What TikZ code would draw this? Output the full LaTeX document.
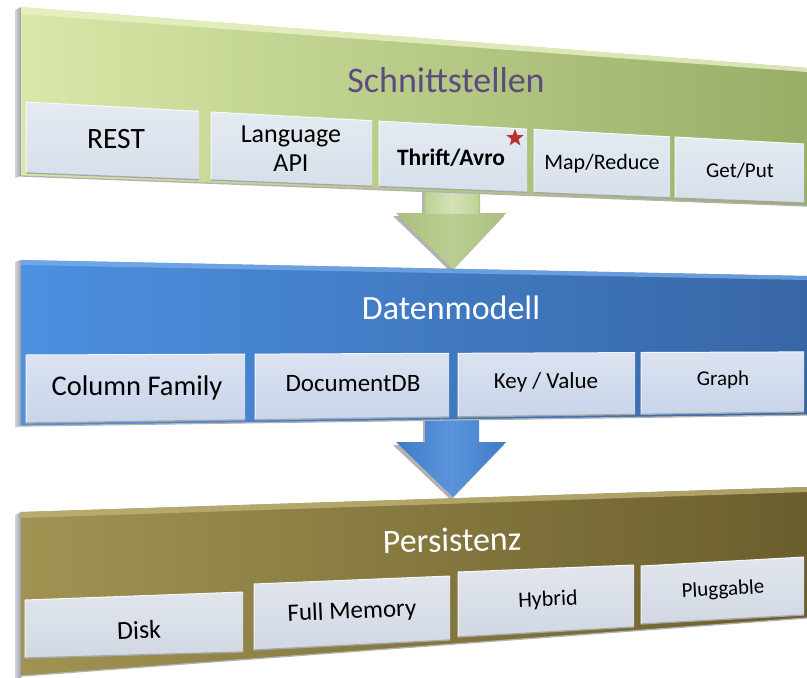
\documentclass[tikz,border=0pt]{standalone}
\usepackage{fontspec}
\setmainfont{Carlito}
\usetikzlibrary{shapes.geometric}

% layer colours
\definecolor{grnL}{HTML}{D8E8A8}
\definecolor{grnR}{HTML}{98AD66}
\definecolor{grnTop}{HTML}{E8F2C6}
\definecolor{bluL}{HTML}{4C90E0}
\definecolor{bluR}{HTML}{3766A6}
\definecolor{bluTop}{HTML}{7DB0EC}
\definecolor{oliL}{HTML}{A09352}
\definecolor{oliR}{HTML}{6A5E2D}
\definecolor{oliTop}{HTML}{BDB175}
\definecolor{sideA}{HTML}{D3D6DB}
\definecolor{sideB}{HTML}{9A9EA6}
\definecolor{cellG}{HTML}{D6DFEA}
\definecolor{cellB}{HTML}{C8D4E9}
\definecolor{cellO}{HTML}{D1D8E3}
\definecolor{titleInk}{HTML}{5C4A80}
\definecolor{starRed}{HTML}{B83232}
\definecolor{arrG}{HTML}{A9BF7E}
\definecolor{arrGl}{HTML}{C3D59B}
\definecolor{arrB}{HTML}{3F7BC6}
\definecolor{arrBl}{HTML}{5A95DC}

% one quadrilateral cell: x1, x2, top-left y, top-right y, bottom-right y, bottom-left y, colour
\newcommand\layercell[7]{%
  \shade[top color=#7!65!white, bottom color=#7] (#1,#3) -- (#2,#4) -- (#2,#5) -- (#1,#6) -- cycle;
  \draw[white!80!#7, line width=1pt] (#1,#6) -- (#1,#3) -- (#2,#4);
  \draw[black!35, line width=1.3pt] (#1,#6) -- (#2,#5);
}

\tikzset{
  cell/.style={inner sep=0pt, align=center, text=black},
  title/.style={inner sep=0pt, font=\fontsize{34}{38}\selectfont},
  arrowshadow/.style={fill=black, opacity=0.3},
}

\begin{document}
\begin{tikzpicture}[x=1pt, y=-1pt]
\useasboundingbox (0,0) rectangle (807,678);
\fill[white] (0,0) rectangle (807,678);

% ---------- block arrows (behind the layers) ----------
\fill[arrowshadow] (422,188) -- (478,188) -- (478,216) -- (504,216) -- (451,272) -- (393,216) -- (422,216) -- cycle;
\shade[left color=arrG, right color=arrG, middle color=arrGl!70!arrG]
  (424,185) -- (480,185) -- (480,213) -- (506,213) -- (453,269) -- (396,213) -- (424,213) -- cycle;
\shade[left color=arrGl!85!arrG, right color=arrGl!85!arrG, middle color=arrGl!70!white]
  (426,185) -- (478,185) -- (478,213) -- (426,213) -- cycle;

\fill[arrowshadow] (423,411) -- (477,411) -- (477,445) -- (504,445) -- (451,500) -- (393,445) -- (423,445) -- cycle;
\shade[left color=arrB, right color=arrB, middle color=arrBl]
  (425,408) -- (479,408) -- (479,442) -- (506,442) -- (453,497) -- (396,442) -- (425,442) -- cycle;

% ---------- layer 1: Schnittstellen ----------
\shade[left color=sideA, right color=sideB] (15,10) -- (21,7) -- (21,176) -- (15,178) -- cycle;
\shade[left color=grnL, right color=grnR] (21,7) -- (807,68) -- (807,206) -- (21,176) -- cycle;
\fill[grnTop, opacity=0.8] (21,7) -- (807,68) -- (807,72) -- (21,14) -- cycle;
\draw[black!30, line width=1.3pt] (21,176) -- (807,206);

\layercell{26}{199}{102}{111.3}{179.7}{173}{cellG}
\layercell{211}{372}{112}{120.7}{186.4}{180.1}{cellG}
\layercell{379}{527}{121.1}{129.1}{192.3}{186.6}{cellG}
\layercell{534}{670}{129.4}{136.8}{197.9}{192.6}{cellG}
\layercell{675}{804}{137}{144}{203}{198.1}{cellG}

\node[title, text=titleInk, font=\fontsize{36}{40}\selectfont] (schnitt) at (446,80) {Schnittstellen};
\node[cell, font=\fontsize{29.5}{32}\selectfont] (rest) at (116,139) {REST};
\node[cell, font=\fontsize{26}{29}\selectfont] (lang) at (291,149) {Language\\API};
\node[cell, font=\bfseries\fontsize{23.5}{26}\selectfont] (thrift) at (451,158) {Thrift/Avro};
\node[star, star points=5, star point ratio=2.4, fill=starRed, inner sep=0pt, minimum size=18pt] (star) at (515,138) {};
\node[cell, font=\fontsize{22}{25}\selectfont] (mapred) at (602,164) {Map/Reduce};
\node[cell, font=\fontsize{21}{24}\selectfont] (getput) at (740,171) {Get/Put};

% ---------- layer 2: Datenmodell ----------
\shade[left color=sideA, right color=sideB] (15,262) -- (21,260) -- (21,426) -- (15,428) -- cycle;
\shade[left color=bluL, right color=bluR] (21,260) -- (807,276) -- (807,415) -- (21,426) -- cycle;
\fill[bluTop, opacity=0.7] (21,260) -- (807,276) -- (807,280) -- (21,265) -- cycle;
\draw[black!30, line width=1.3pt] (21,426) -- (807,415);

\layercell{26}{245}{355}{354.1}{419.9}{423}{cellB}
\layercell{255}{449}{354.1}{353.3}{417}{419.8}{cellB}
\layercell{458}{635}{353.3}{352.6}{414.4}{416.9}{cellB}
\layercell{641}{804}{352.5}{351.9}{412}{414.3}{cellB}

\node[title, text=white] (daten) at (451,308) {Datenmodell};
\node[cell, font=\fontsize{28.5}{31}\selectfont] (colfam) at (137,388) {Column Family};
\node[cell, font=\fontsize{25}{28}\selectfont] (docdb) at (353,384) {DocumentDB};
\node[cell, font=\fontsize{23}{26}\selectfont] (keyval) at (546,382) {Key / Value};
\node[cell, font=\fontsize{21}{24}\selectfont] (graph) at (723,380) {Graph};

% ---------- layer 3: Persistenz ----------
\shade[left color=sideA, right color=sideB] (15,515) -- (21,512) -- (21,678) -- (15,678) -- cycle;
\shade[left color=oliL, right color=oliR] (21,512) -- (807,487) -- (807,618) -- (21,676) -- cycle;
\fill[oliTop, opacity=0.8] (21,512) -- (807,487) -- (807,492) -- (21,518) -- cycle;
\draw[black!30, line width=1.3pt] (21,676) -- (807,618);

\layercell{25}{243}{600}{592}{652}{658}{cellO}
\layercell{254}{450}{584}{576}{640}{650}{cellO}
\layercell{458}{634}{572}{565}{627}{637}{cellO}
\layercell{641}{804}{566}{557}{615}{624}{cellO}

\node[title, text=white, rotate=1.5] (persist) at (452,540) {Persistenz};
\node[cell, font=\fontsize{26}{29}\selectfont, rotate=2] (disk) at (139,630) {Disk};
\node[cell, font=\fontsize{25}{28}\selectfont, rotate=2.5] (fullmem) at (352,612) {Full Memory};
\node[cell, font=\fontsize{22}{25}\selectfont, rotate=2.5] (hybrid) at (548,600) {Hybrid};
\node[cell, font=\fontsize{21}{24}\selectfont, rotate=3] (plug) at (723,590) {Pluggable};
\end{tikzpicture}
\end{document}
